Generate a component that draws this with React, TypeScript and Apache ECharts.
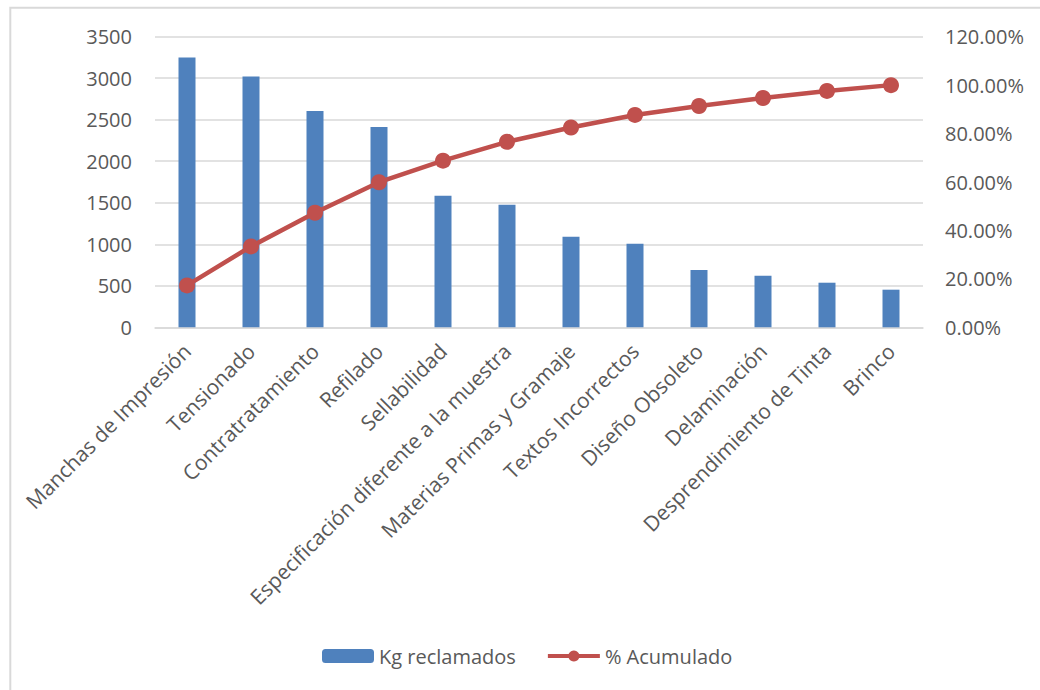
import React, { useEffect, useRef } from "react";
import * as echarts from "echarts";

const categories = [
  "Manchas de Impresión",
  "Tensionado",
  "Contratratamiento",
  "Refilado",
  "Sellabilidad",
  "Especificación diferente a la muestra",
  "Materias Primas y Gramaje",
  "Textos Incorrectos",
  "Diseño Obsoleto",
  "Delaminación",
  "Desprendimiento de Tinta",
  "Brinco",
];
const kgReclamados = [3250, 3020, 2605, 2412, 1585, 1477, 1091, 1007, 690, 622, 537, 453];
const acumulado = [17.3, 33.4, 47.3, 59.9, 68.8, 76.6, 82.5, 87.7, 91.4, 94.7, 97.6, 100.0];
const leftTicks = { min: 0, max: 3500, interval: 500 };
const rightTicks = { min: 0, max: 120, interval: 20 };

const FONT = "Open Sans";
const TXT = "#595959";
const GRID = "#d9d9d9";
const RED = "#C0504D";

export default function App() {
  const ref = useRef<HTMLDivElement>(null);
  useEffect(() => {
    if (!ref.current) return;
    const chart = echarts.init(ref.current, undefined, { renderer: "svg" });
    chart.setOption({
      animation: false,
      backgroundColor: "#ffffff",
      textStyle: { fontFamily: FONT, color: TXT },
      graphic: [
        {
          type: "rect",
          shape: { x: 10.3, y: 7.7, width: 2000, height: 2000 },
          style: { fill: "none", stroke: GRID, lineWidth: 2 },
          silent: true,
        },
      ],
      grid: { left: 155, top: 36.7, width: 768, height: 290.6, containLabel: false },
      legend: {
        left: 317,
        top: 641,
        itemWidth: 52,
        itemHeight: 14,
        itemGap: 30,
        textStyle: { fontFamily: FONT, fontSize: 20, color: TXT },
        data: [
          { name: "Kg reclamados", itemStyle: { color: "#4F81BD" } },
          { name: "% Acumulado", lineStyle: { width: 4, color: RED }, itemStyle: { color: RED } },
        ],
      },
      xAxis: {
        type: "category",
        data: categories,
        axisLine: { show: true, lineStyle: { color: GRID, width: 1.5 } },
        axisTick: { show: false },
        axisLabel: {
          interval: 0,
          rotate: 45,
          margin: 20,
          fontFamily: FONT,
          fontSize: 21,
          color: TXT,
        },
      },
      yAxis: [
        {
          type: "value",
          ...leftTicks,
          axisLine: { show: false },
          axisTick: { show: false },
          splitLine: { show: true, lineStyle: { color: GRID, width: 1.5 } },
          axisLabel: {
            margin: 23,
            fontFamily: FONT,
            fontSize: 20,
            color: TXT,
            formatter: (v: number) => String(v),
          },
        },
        {
          type: "value",
          ...rightTicks,
          position: "right",
          axisLine: { show: false },
          axisTick: { show: false },
          splitLine: { show: false },
          axisLabel: {
            margin: 22,
            fontFamily: FONT,
            fontSize: 20,
            color: TXT,
            formatter: (v: number) => v.toFixed(2) + "%",
          },
        },
      ],
      series: [
        {
          name: "Kg reclamados",
          type: "bar",
          data: kgReclamados,
          barWidth: 17,
          itemStyle: { color: "#4F81BD" },
          yAxisIndex: 0,
        },
        {
          name: "% Acumulado",
          type: "line",
          data: acumulado,
          yAxisIndex: 1,
          symbol: "circle",
          symbolSize: 16,
          lineStyle: { color: RED, width: 4.5 },
          itemStyle: { color: RED },
        },
      ],
    });
    return () => chart.dispose();
  }, []);
  return (
    <div
      ref={ref}
      style={{ position: "fixed", left: 0, top: 0, width: 1040, height: 690 }}
    />
  );
}
